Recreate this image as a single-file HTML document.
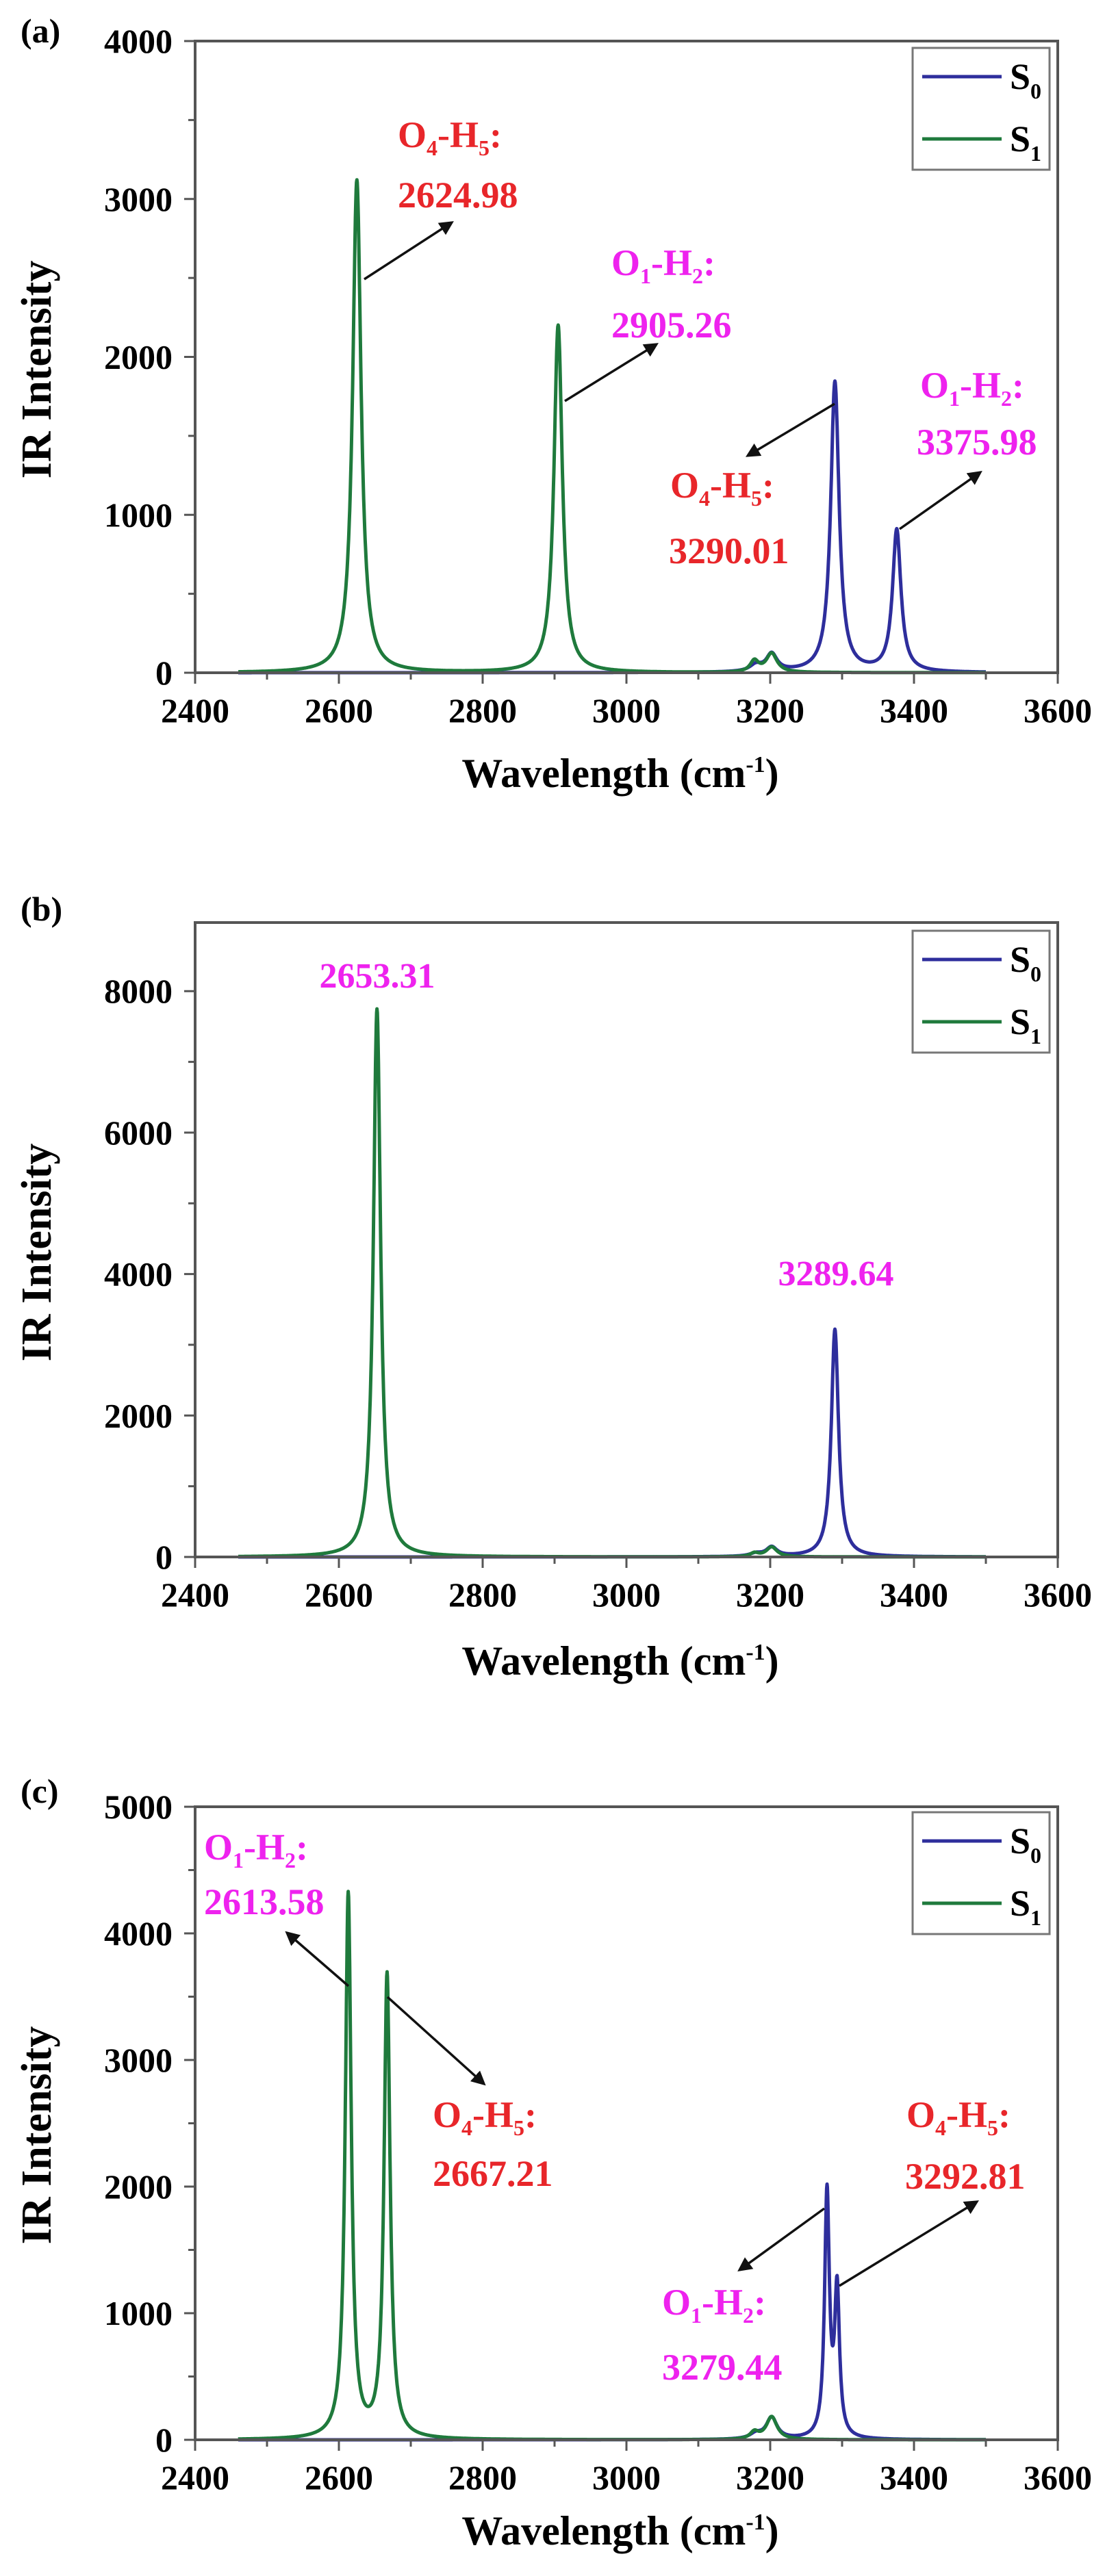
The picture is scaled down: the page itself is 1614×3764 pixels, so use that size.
<!DOCTYPE html>
<html><head><meta charset="utf-8"><style>
html,body{margin:0;padding:0;background:#fff;}
svg{display:block;}
text{font-family:"Liberation Serif",serif;font-weight:bold;}
</style></head><body>
<svg id="s" xmlns="http://www.w3.org/2000/svg" width="1614" height="3764" viewBox="0 0 1614 3764">
<defs>
<marker id="ah" markerWidth="6" markerHeight="6" refX="5" refY="3" orient="auto" markerUnits="strokeWidth">
<path d="M0,0 L6,3 L0,6 Z" fill="#111"/></marker>
</defs>
<g id="curves"></g>
<g id="axes"></g>

<text x="30" y="62" font-size="50">(a)</text>
<text x="30" y="1345" font-size="50">(b)</text>
<text x="30" y="2634" font-size="50">(c)</text>

<text transform="translate(74,540) rotate(-90)" font-size="62" text-anchor="middle">IR Intensity</text>
<text transform="translate(74,1830) rotate(-90)" font-size="62" text-anchor="middle">IR Intensity</text>
<text transform="translate(74,3120) rotate(-90)" font-size="62" text-anchor="middle">IR Intensity</text>

<text x="906" y="1150" font-size="60" text-anchor="middle">Wavelength (cm<tspan dy="-22" font-size="34">-1</tspan><tspan dy="22">)</tspan></text>
<text x="906" y="2447" font-size="60" text-anchor="middle">Wavelength (cm<tspan dy="-22" font-size="34">-1</tspan><tspan dy="22">)</tspan></text>
<text x="906" y="3718" font-size="60" text-anchor="middle">Wavelength (cm<tspan dy="-22" font-size="34">-1</tspan><tspan dy="22">)</tspan></text>

<g font-size="54">
<text x="581" y="215" fill="#e8262a">O<tspan font-size="32" dy="12">4</tspan><tspan dy="-12">-H</tspan><tspan font-size="32" dy="12">5</tspan><tspan dy="-12">:</tspan></text>
<text x="581" y="303" fill="#e8262a">2624.98</text>
<text x="893" y="402" fill="#ee22ee">O<tspan font-size="32" dy="12">1</tspan><tspan dy="-12">-H</tspan><tspan font-size="32" dy="12">2</tspan><tspan dy="-12">:</tspan></text>
<text x="893" y="493" fill="#ee22ee">2905.26</text>
<text x="979" y="727" fill="#e8262a">O<tspan font-size="32" dy="12">4</tspan><tspan dy="-12">-H</tspan><tspan font-size="32" dy="12">5</tspan><tspan dy="-12">:</tspan></text>
<text x="977" y="823" fill="#e8262a">3290.01</text>
<text x="1344" y="581" fill="#ee22ee">O<tspan font-size="32" dy="12">1</tspan><tspan dy="-12">-H</tspan><tspan font-size="32" dy="12">2</tspan><tspan dy="-12">:</tspan></text>
<text x="1339" y="664" fill="#ee22ee">3375.98</text>
</g>
<g stroke="#111" stroke-width="3.5" marker-end="url(#ah)">
<line x1="532" y1="408" x2="660" y2="325"/>
<line x1="825" y1="586" x2="959" y2="503"/>
<line x1="1219" y1="590" x2="1092" y2="666"/>
<line x1="1314" y1="773" x2="1432" y2="690"/>
</g>

<g font-size="52" fill="#ee22ee" text-anchor="middle">
<text x="551" y="1443">2653.31</text>
<text x="1221" y="1878">3289.64</text>
</g>

<g font-size="54">
<text x="298" y="2717" fill="#ee22ee">O<tspan font-size="32" dy="12">1</tspan><tspan dy="-12">-H</tspan><tspan font-size="32" dy="12">2</tspan><tspan dy="-12">:</tspan></text>
<text x="298" y="2797" fill="#ee22ee">2613.58</text>
<text x="632" y="3108" fill="#e8262a">O<tspan font-size="32" dy="12">4</tspan><tspan dy="-12">-H</tspan><tspan font-size="32" dy="12">5</tspan><tspan dy="-12">:</tspan></text>
<text x="632" y="3194" fill="#e8262a">2667.21</text>
<text x="967" y="3382" fill="#ee22ee">O<tspan font-size="32" dy="12">1</tspan><tspan dy="-12">-H</tspan><tspan font-size="32" dy="12">2</tspan><tspan dy="-12">:</tspan></text>
<text x="967" y="3477" fill="#ee22ee">3279.44</text>
<text x="1324" y="3108" fill="#e8262a">O<tspan font-size="32" dy="12">4</tspan><tspan dy="-12">-H</tspan><tspan font-size="32" dy="12">5</tspan><tspan dy="-12">:</tspan></text>
<text x="1322" y="3198" fill="#e8262a">3292.81</text>
</g>
<g stroke="#111" stroke-width="3.5" marker-end="url(#ah)">
<line x1="509" y1="2902" x2="419" y2="2824"/>
<line x1="566" y1="2918" x2="707" y2="3045"/>
<line x1="1204" y1="3227" x2="1080" y2="3317"/>
<line x1="1226" y1="3340" x2="1427" y2="3217"/>
</g>

<g id="legends"></g>
</svg>
<script>
(function(){
var NS="http://www.w3.org/2000/svg";
var curves=document.getElementById('curves'),axes=document.getElementById('axes'),leg=document.getElementById('legends');
var L=285,R=1545;
function X(w){return L+(w-2400)*(R-L)/1200;}
function el(p,tag,attrs,txt){var e=document.createElementNS(NS,tag);for(var k in attrs)e.setAttribute(k,attrs[k]);if(txt!=null)e.textContent=txt;p.appendChild(e);return e;}
function spec(peaks,w){var s=0;for(var i=0;i<peaks.length;i++){var p=peaks[i],g=p[2]||8;s+=p[1]*g*g/((w-p[0])*(w-p[0])+g*g);}return s;}
function panel(top,zero,ymax,step,blue,green,legTop){
  var k=(zero-top)/ymax;
  function Y(v){return zero-v*k;}
  [[blue,'#2e2e9c'],[green,'#1f7a3c']].forEach(function(sc){
    var pts=[];for(var w=2460;w<=3500;w+=0.5){pts.push(X(w).toFixed(1)+','+Y(spec(sc[0],w)).toFixed(1));}
    el(curves,'polyline',{points:pts.join(' '),fill:'none',stroke:sc[1],'stroke-width':5,'stroke-linejoin':'round'});
  });
  el(axes,'rect',{x:L,y:top,width:R-L,height:zero-top,fill:'none',stroke:'#555','stroke-width':4});
  for(var w=2400;w<=3600;w+=100){var maj=(w%200==0);
    el(axes,'line',{x1:X(w),y1:zero,x2:X(w),y2:zero+(maj?16:10),stroke:'#555','stroke-width':3});
    if(maj)el(axes,'text',{x:X(w),y:zero+72,'font-size':50,'text-anchor':'middle'},String(w));}
  for(var v=0;v<=ymax+1;v+=step/2){var maj=(Math.round(v)%step==0);
    el(axes,'line',{x1:L,y1:Y(v),x2:L-(maj?16:10),y2:Y(v),stroke:'#555','stroke-width':3});
    if(maj)el(axes,'text',{x:252,y:Y(v)+17,'font-size':50,'text-anchor':'end'},String(v));}
  el(leg,'rect',{x:1333,y:legTop,width:200,height:178,fill:'#fff',stroke:'#777','stroke-width':3});
  el(leg,'line',{x1:1347,y1:legTop+42,x2:1463,y2:legTop+42,stroke:'#2e2e9c','stroke-width':5});
  el(leg,'line',{x1:1347,y1:legTop+133,x2:1463,y2:legTop+133,stroke:'#1f7a3c','stroke-width':5});
  var t=el(leg,'text',{x:1475,y:legTop+60,'font-size':54},'S');el(t,'tspan',{'font-size':32,dy:14},'0');
  t=el(leg,'text',{x:1475,y:legTop+151,'font-size':54},'S');el(t,'tspan',{'font-size':32,dy:14},'1');
}
panel(60,983,4000,1000,
 [[3290,1840,7],[3376,900,7],[3180,40,10],[3202,110,9]],
 [[2625,3120,7],[2905,2200,7],[3178,70,7],[3202,120,9]],70);
panel(1348,2275,8970,2000,
 [[3290,3220,6],[3180,40,10],[3202,130,9]],
 [[2653,7750,6],[3178,50,7],[3202,140,9]],1360);
panel(2640,3565,5000,1000,
 [[3279,1930,4],[3293,1150,4],[3180,40,10],[3202,170,9]],
 [[2613,4300,5],[2667,3660,5],[3178,55,7],[3202,180,9]],2648);
})();
</script>
</body></html>
